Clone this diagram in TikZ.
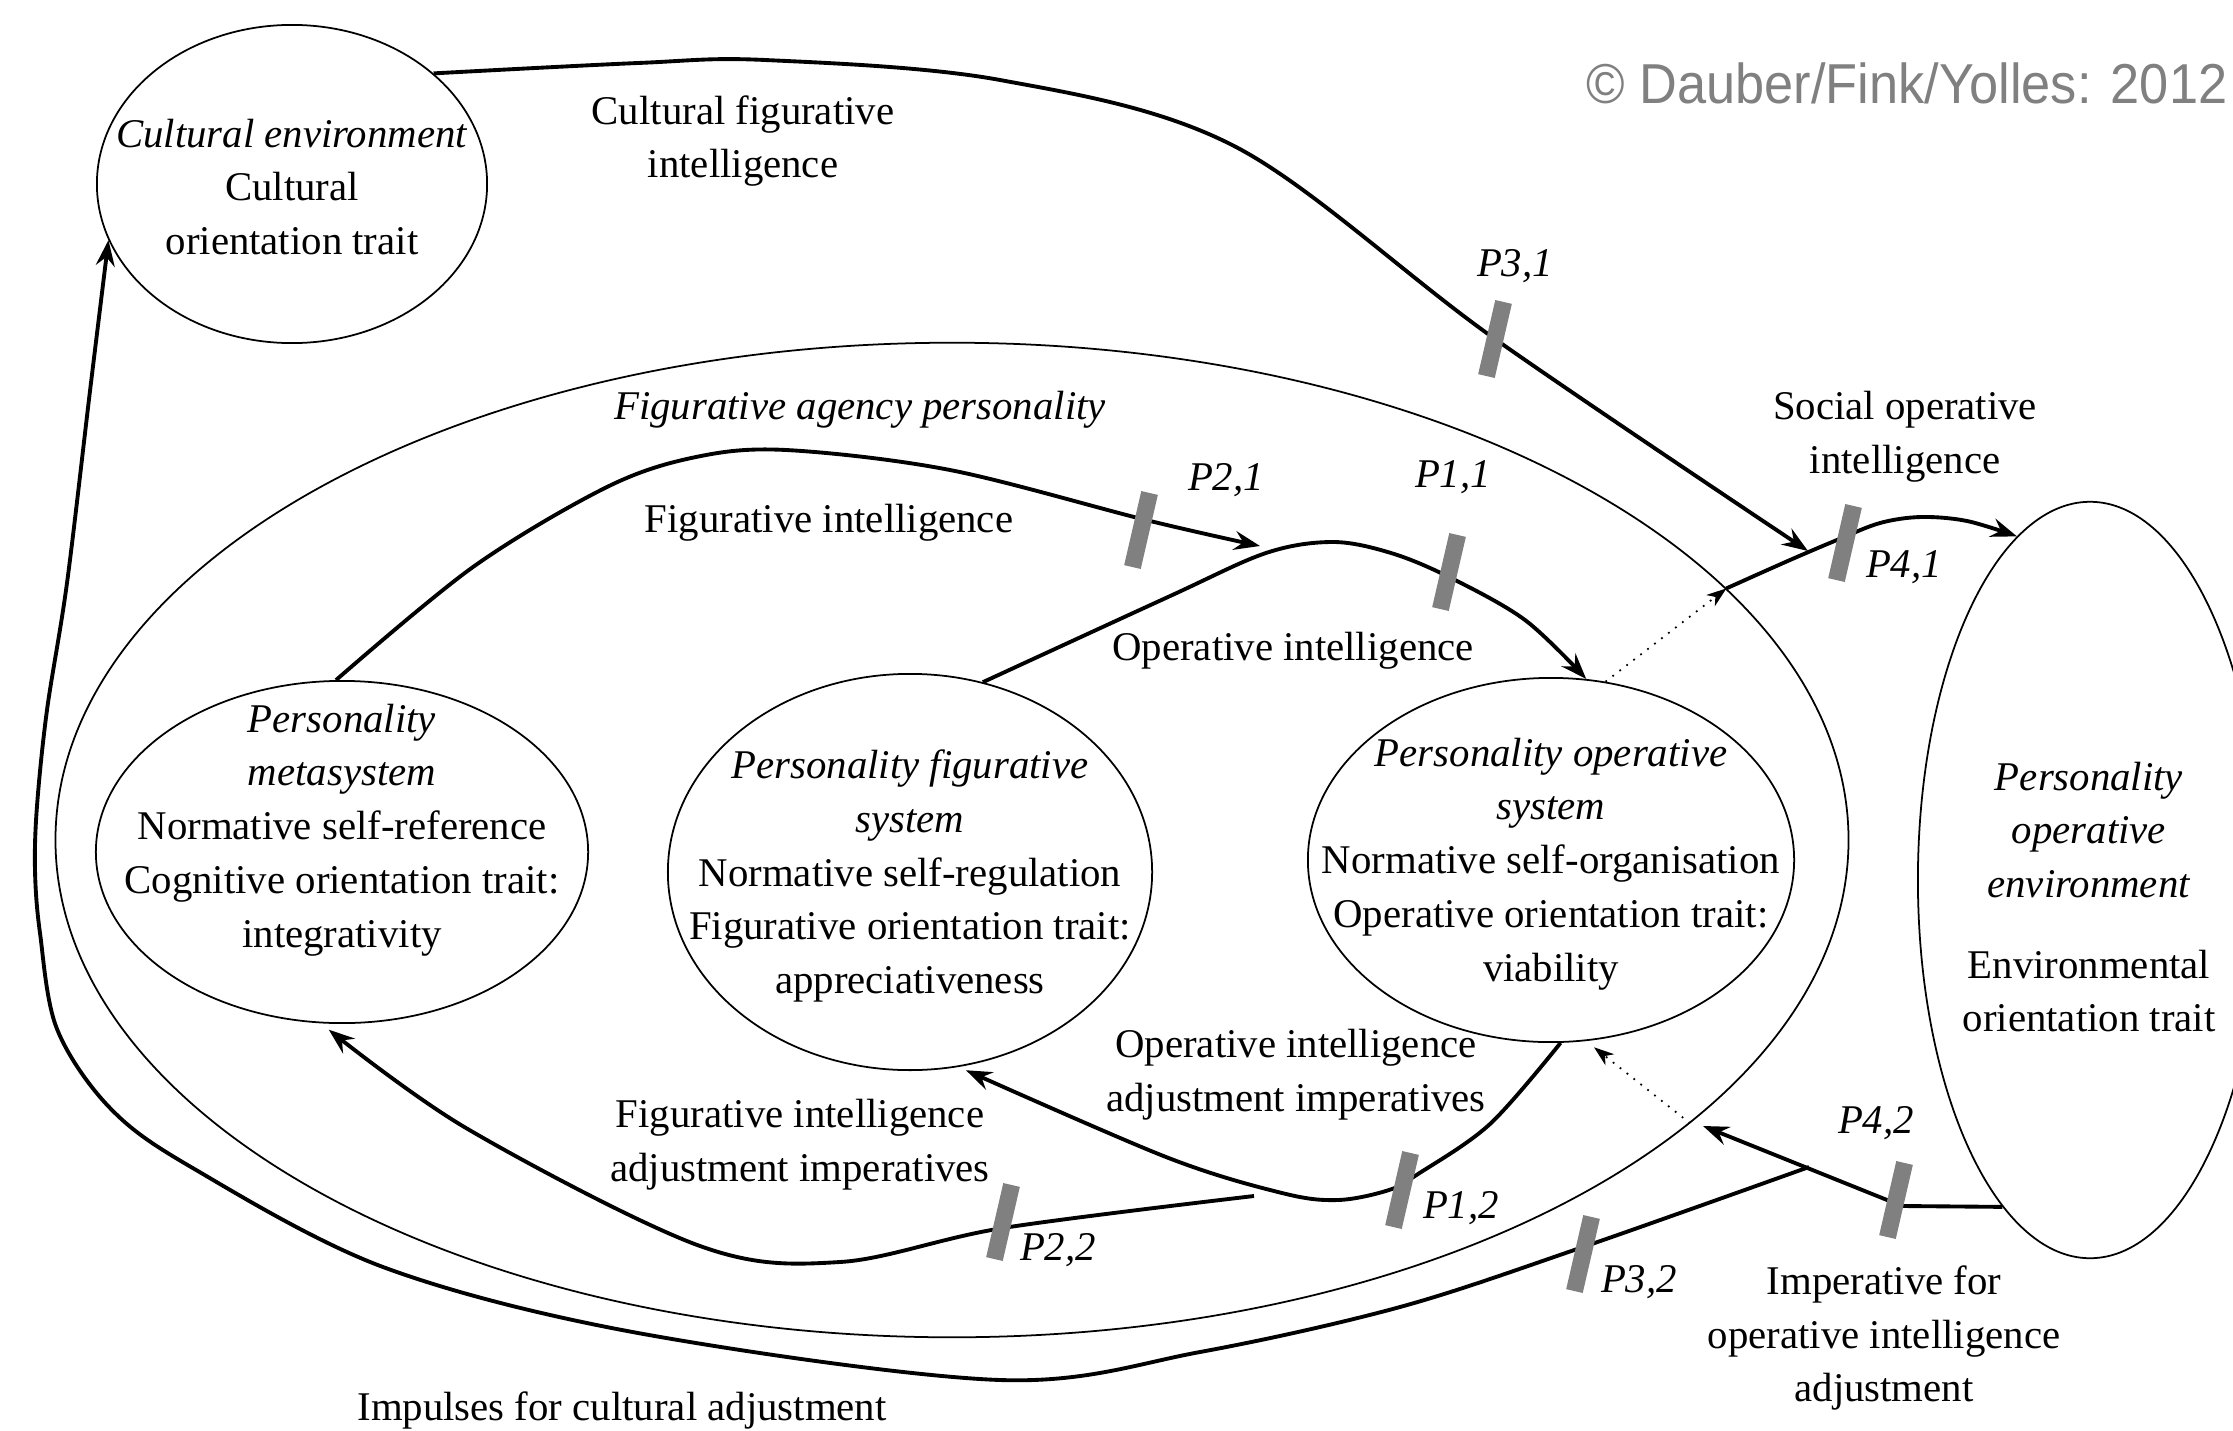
\documentclass[tikz,border=0pt]{standalone}
\usepackage{fontspec}
\setmainfont{Liberation Serif}
\newfontfamily\copyfont{Liberation Sans}
\usepackage{graphicx}
\usetikzlibrary{arrows.meta,shapes.geometric}
\definecolor{bargray}{HTML}{808080}
\definecolor{copygray}{HTML}{808080}
\begin{document}
\begin{tikzpicture}[x=0.01cm,y=-0.01cm,
  every node/.style={font=\fontsize{11.6}{15.3}\selectfont, align=center, inner sep=0pt},
  oval/.style={draw, ellipse, line width=0.5pt, inner sep=0pt},
  flow/.style={line width=1.1pt, -{Stealth[length=0.26cm,width=0.19cm,inset=0.09cm]}},
  dots/.style={line width=0.5pt, dotted, -{Stealth[length=0.2cm,width=0.14cm,inset=0.06cm]}},
  bar/.style={fill=bargray, minimum width=0.17cm, minimum height=0.76cm, rotate=-13, inner sep=0pt},
  plabel/.style={font=\fontsize{11.6}{15.3}\selectfont\itshape},
]
\useasboundingbox (0,0) rectangle (2233,1430);

% ellipses
\node[oval, minimum width=3.90cm, minimum height=3.18cm] (cult) at (292,184) {};
\node[oval, minimum width=17.92cm, minimum height=9.94cm] (agency) at (952,840) {};
\node[oval, minimum width=4.92cm, minimum height=3.42cm] (meta) at (342,852) {};
\node[oval, minimum width=4.84cm, minimum height=3.96cm] (fig) at (910,872) {};
\node[oval, minimum width=4.86cm, minimum height=3.64cm] (op) at (1551,860) {};
\node[oval, minimum width=3.44cm, minimum height=7.56cm] (env) at (2090,880) {};

% free coordinates
\coordinate (j1) at (1808,551);
\coordinate (fi1) at (1260,546);
\coordinate (fa0) at (1254,1196);
\coordinate (j2) at (1809,1167);
\coordinate (c42) at (1902,1206);
\coordinate (t42) at (1703,1126);

% connectors
\draw[flow] plot[smooth, tension=0.55] coordinates {(cult.38) (638,63) (765,60) (1000,80) (1236,147) (1495,339) (j1)};
\draw[flow] plot[smooth, tension=0.55] coordinates {(meta.92) (473,567) (607,487) (696,457) (786,450) (950,470) (1146,520) (fi1)};
\draw[flow] plot[smooth, tension=0.55] coordinates {(fig.69) (1168,597) (1266,553) (1333,542) (1391,553) (1449,577) (1525,620) (op.79)};
\draw[dots] (op.73) -- (agency.18);
\draw[flow] plot[smooth, tension=0.55] coordinates {(agency.18) (1790,560) (1837,540) (1880,523) (1921,517) (1967,521) (env.102)};
\draw[dots, shorten >=0.1cm] (agency.-21) -- (op.-79);
\draw[flow] (env.255) -- (c42) -- (t42);
\draw[flow] plot[smooth, tension=0.55] coordinates {(j2) (1583,1247) (1400,1307) (1200,1352) (1000,1380) (638,1333) (383,1267) (191,1167) (110,1108) (57,1029) (40,933) (35,870) (37,806) (47,710) (67,583) (90,391) (cult.197)};
\draw[flow, shorten >=0.1cm] plot[smooth, tension=0.55] coordinates {(fa0) (1003,1228) (840,1262) (700,1246) (466,1128) (meta.-97)};
\draw[flow, shorten >=0.08cm] plot[smooth, tension=0.55] coordinates {(op.-87) (1490,1124) (1418,1174) (1389,1190) (1338,1200) (1282,1193) (1166,1157) (fig.-76)};

% bars
\node[bar] (b31) at (1495,339) {};
\node[bar] (b21) at (1141,530) {};
\node[bar] (b11) at (1449,572) {};
\node[bar] (b41) at (1845,543) {};
\node[bar] (b42) at (1896,1200) {};
\node[bar] (b32) at (1583,1254) {};
\node[bar] (b12) at (1402,1190) {};
\node[bar] (b22) at (1003,1222) {};

% texts in ellipses
\node (tcult) at (292,187) {\textit{Cultural environment}\\Cultural\\orientation trait};
\node (tmeta) at (342,830) {\textit{Personality}\\\textit{metasystem}\\Normative self-reference\\Cognitive orientation trait:\\integrativity};
\node (tfig) at (910,876) {\textit{Personality figurative}\\\textit{system}\\Normative self-regulation\\Figurative orientation trait:\\appreciativeness};
\node (top) at (1551,864) {\textit{Personality operative}\\\textit{system}\\Normative self-organisation\\Operative orientation trait:\\viability};
\node (tenv1) at (2089,830) {\textit{Personality}\\\textit{operative}\\\textit{environment}};
\node (tenv2) at (2089,991) {Environmental\\orientation trait};

% labels
\node (lcfi) at (743,141) {Cultural figurative\\intelligence};
\node[plabel] (lp31) at (1515,266) {P3,1};
\node[plabel] (lfap) at (860,410) {Figurative agency personality};
\node (lsoi) at (1905,437) {Social operative\\intelligence};
\node (lfi) at (829,523) {Figurative intelligence};
\node[plabel] (lp21) at (1226,480) {P2,1};
\node[plabel] (lp11) at (1453,477) {P1,1};
\node[plabel] (lp41) at (1904,567) {P4,1};
\node (loi) at (1293,651) {Operative intelligence};
\node (loai) at (1296,1075) {Operative intelligence\\adjustment imperatives};
\node (lfai) at (800,1145) {Figurative intelligence\\adjustment imperatives};
\node[plabel] (lp12) at (1461,1208) {P1,2};
\node[plabel] (lp22) at (1058,1250) {P2,2};
\node[plabel] (lp32) at (1639,1282) {P3,2};
\node[plabel] (lp42) at (1876,1123) {P4,2};
\node (lifo) at (1884,1338) {Imperative for\\operative intelligence\\adjustment};
\node (lica) at (622,1410) {Impulses for cultural adjustment};
\node[font=\copyfont\fontsize{16}{18}\selectfont, text=copygray] (copy) at (1907,83) {\scalebox{0.93}[1]{© Dauber/Fink/Yolles: 2012}};
\end{tikzpicture}
\end{document}
